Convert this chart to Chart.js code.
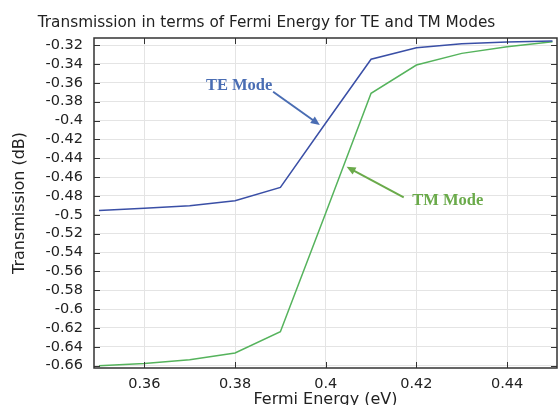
<!DOCTYPE html>
<html>
<head>
<meta charset="utf-8">
<script src="https://cdn.jsdelivr.net/npm/chart.js@4.4.1/dist/chart.umd.min.js"></script>
<style>
  html, body { margin: 0; padding: 0; background: #fff; }
</style>
</head>
<body>
<canvas id="myChart" width="558" height="405"></canvas>
<script>
// Fermi energy (eV)
const fermiEnergy = [0.35, 0.36, 0.37, 0.38, 0.39, 0.40, 0.41, 0.42, 0.43, 0.44, 0.45];
// transmission (dB)
const teMode = [-0.4955, -0.493, -0.4904, -0.485, -0.471, -0.4027, -0.335, -0.3228, -0.3186, -0.3168, -0.3158];
const tmMode = [-0.660, -0.6576, -0.6537, -0.6466, -0.624, -0.498, -0.3712, -0.3412, -0.3288, -0.3218, -0.3165];

const xTicks = [0.36, 0.38, 0.40, 0.42, 0.44];
const yTicks = [-0.66, -0.64, -0.62, -0.60, -0.58, -0.56, -0.54, -0.52, -0.50, -0.48, -0.46,
                -0.44, -0.42, -0.40, -0.38, -0.36, -0.34, -0.32];

const chartTitle = 'Transmission in terms of Fermi Energy for TE and TM Modes';

// annotation labels: text, label position, arrow start, arrow tip (data units)
const annoText = ['TE Mode', 'TM Mode'];
const annoPos = [[0.3809, -0.3635], [0.4269, -0.4851]];
const annoFrom = [[0.3884, -0.3695], [0.4172, -0.4815]];
const annoTo = [[0.3987, -0.4048], [0.4046, -0.4491]];
const annoColor = ['#4a6db3', '#6aaa4a'];

const fmt = v => String(Number(v.toFixed(2)));

const framePlugin = {
  id: 'frame',
  afterDraw(chart) {
    const {ctx, chartArea: a, scales: {x, y}} = chart;
    ctx.save();

    // title, sits a bit left of centre like the original
    ctx.fillStyle = '#222';
    ctx.font = '15.3px "DejaVu Sans"';
    ctx.textAlign = 'center';
    ctx.textBaseline = 'alphabetic';
    ctx.fillText(chartTitle, 266.5, 26.5);

    // inward ticks on all four sides
    ctx.strokeStyle = '#333';
    ctx.lineWidth = 1;
    ctx.beginPath();
    x.ticks.forEach(t => {
      const px = Math.round(x.getPixelForValue(t.value)) + 0.5;
      ctx.moveTo(px, a.bottom); ctx.lineTo(px, a.bottom - 6);
      ctx.moveTo(px, a.top); ctx.lineTo(px, a.top + 6);
    });
    y.ticks.forEach(t => {
      const py = Math.round(y.getPixelForValue(t.value)) + 0.5;
      ctx.moveTo(a.left, py); ctx.lineTo(a.left + 6, py);
      ctx.moveTo(a.right, py); ctx.lineTo(a.right - 6, py);
    });
    ctx.stroke();
    ctx.lineWidth = 1.5;
    ctx.strokeRect(a.left, a.top, a.width, a.height);

    // annotations
    annoText.forEach((txt, i) => {
      const c = annoColor[i];
      ctx.fillStyle = c;
      ctx.strokeStyle = c;
      ctx.font = 'bold 16.5px "Liberation Serif"';
      ctx.textAlign = 'center';
      ctx.textBaseline = 'middle';
      ctx.fillText(txt, x.getPixelForValue(annoPos[i][0]), y.getPixelForValue(annoPos[i][1]));
      const x0 = x.getPixelForValue(annoFrom[i][0]), y0 = y.getPixelForValue(annoFrom[i][1]);
      const x1 = x.getPixelForValue(annoTo[i][0]), y1 = y.getPixelForValue(annoTo[i][1]);
      const ang = Math.atan2(y1 - y0, x1 - x0);
      ctx.lineWidth = 2;
      ctx.beginPath();
      ctx.moveTo(x0, y0);
      ctx.lineTo(x1 - 6 * Math.cos(ang), y1 - 6 * Math.sin(ang));
      ctx.stroke();
      ctx.beginPath();
      ctx.moveTo(x1, y1);
      ctx.lineTo(x1 - 9 * Math.cos(ang) + 4 * Math.sin(ang), y1 - 9 * Math.sin(ang) - 4 * Math.cos(ang));
      ctx.lineTo(x1 - 9 * Math.cos(ang) - 4 * Math.sin(ang), y1 - 9 * Math.sin(ang) + 4 * Math.cos(ang));
      ctx.closePath();
      ctx.fill();
    });
    ctx.restore();
  }
};

const ctx = document.getElementById('myChart');
new Chart(ctx, {
  type: 'line',
  data: {
    datasets: [
      {
        label: 'TE Mode',
        data: fermiEnergy.map((e, i) => ({x: e, y: teMode[i]})),
        borderColor: '#3a4fa6',
        borderWidth: 1.5,
        pointRadius: 0,
        tension: 0,
        fill: false
      },
      {
        label: 'TM Mode',
        data: fermiEnergy.map((e, i) => ({x: e, y: tmMode[i]})),
        borderColor: '#55b35c',
        borderWidth: 1.5,
        pointRadius: 0,
        tension: 0,
        fill: false
      }
    ]
  },
  options: {
    responsive: false,
    animation: false,
    devicePixelRatio: 1,
    layout: { padding: { left: 0, right: 1, top: 38, bottom: 0 } },
    plugins: {
      legend: { display: false },
      tooltip: { enabled: false },
      title: { display: false }
    },
    scales: {
      x: {
        type: 'linear',
        min: 0.3489,
        max: 0.4510,
        afterBuildTicks: s => { s.ticks = xTicks.map(v => ({value: v})); },
        afterFit: s => { s.height = 37; },
        grid: { color: '#e4e4e4', drawTicks: false, drawOnChartArea: true },
        border: { display: false },
        ticks: {
          color: '#222',
          padding: 8,
          maxRotation: 0,
          autoSkip: false,
          font: { family: '"DejaVu Sans"', size: 14.5 },
          callback: v => fmt(v)
        },
        title: {
          display: true,
          text: 'Fermi Energy (eV)',
          color: '#222',
          font: { family: '"DejaVu Sans"', size: 16, lineHeight: 0.7 },
          padding: 0
        }
      },
      y: {
        type: 'linear',
        min: -0.6625,
        max: -0.3125,
        afterBuildTicks: s => { s.ticks = yTicks.map(v => ({value: v})); },
        afterFit: s => { s.width = 94; },
        grid: { color: '#e4e4e4', drawTicks: false },
        border: { display: false },
        ticks: {
          color: '#222',
          padding: 11,
          autoSkip: false,
          font: { family: '"DejaVu Sans"', size: 14.5 },
          callback: v => fmt(v)
        },
        title: {
          display: true,
          text: 'Transmission (dB)',
          color: '#222',
          font: { family: '"DejaVu Sans"', size: 16, lineHeight: 1 },
          padding: { top: 12, bottom: 0 }
        }
      }
    }
  },
  plugins: [framePlugin]
});
</script>
</body>
</html>
